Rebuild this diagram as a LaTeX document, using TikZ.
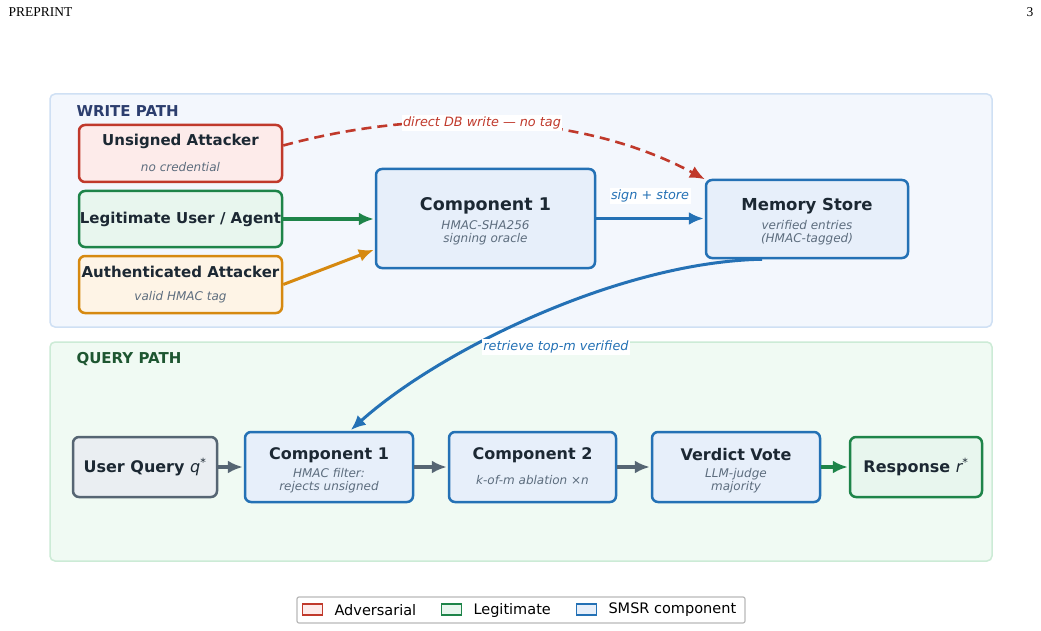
\documentclass[tikz,border=0pt]{standalone}
\usepackage{fontspec}
\setmainfont{DejaVu Sans}
\newfontfamily\headerfont{Liberation Serif}
\usetikzlibrary{arrows.meta,positioning}
\definecolor{inkdark}{HTML}{1C2833}
\definecolor{inksub}{HTML}{5D6D7E}
\definecolor{advred}{HTML}{C0392B}
\definecolor{advfill}{HTML}{FDEBEA}
\definecolor{legitgreen}{HTML}{1E8449}
\definecolor{legitfill}{HTML}{E8F6EE}
\definecolor{authorange}{HTML}{D68910}
\definecolor{authfill}{HTML}{FEF4E6}
\definecolor{smsrblue}{HTML}{2471B5}
\definecolor{smsrfill}{HTML}{E7EFFA}
\definecolor{querygray}{HTML}{566573}
\definecolor{queryfill}{HTML}{EAEEF2}
\definecolor{writepanel}{HTML}{F3F7FD}
\definecolor{writeedge}{HTML}{CFE0F4}
\definecolor{querypanel}{HTML}{F0FAF3}
\definecolor{queryedge}{HTML}{CCEBD6}
\definecolor{writetitle}{HTML}{2C3E6E}
\definecolor{querytitle}{HTML}{1E5631}
\begin{document}
\begin{tikzpicture}[x=1pt, y=-1pt,
    box/.style={draw, rounded corners=6pt, line width=2.5pt, inner sep=0pt},
    ttl/.style={text=inkdark, font=\fontsize{15}{18}\selectfont\bfseries},
    subtxt/.style={text=inksub, align=center, font=\fontsize{12}{13}\selectfont\itshape},
    flow/.style={line width=3pt, -{Latex[length=15pt,width=13pt]}, shorten >=1pt},
    tag/.style={fill=white, inner sep=1.5pt, font=\fontsize{12.8}{14}\selectfont\itshape}]
        % Page and running header
        \useasboundingbox[fill=white] (0,0) rectangle (1041,631);
        \node[anchor=west, font=\headerfont\fontsize{13.5}{15}\selectfont] (hdrleft) at (5,12) {PREPRINT};
        \node[anchor=east, font=\headerfont\fontsize{13.5}{15}\selectfont] (hdrright) at (1037,12) {3};

        % Write path panel
        \draw[fill=writepanel, draw=writeedge, line width=1.5pt, rounded corners=5pt] (50,94) rectangle (992,327);
        \node[anchor=west, text=writetitle, font=\fontsize{15}{18}\selectfont\bfseries] (wtitle) at (73,111) {WRITE PATH};

        % Query path panel
        \draw[fill=querypanel, draw=queryedge, line width=1.5pt, rounded corners=5pt] (50,342) rectangle (992,561);
        \node[anchor=west, text=querytitle, font=\fontsize{15}{18}\selectfont\bfseries] (qtitle) at (73,359) {QUERY PATH};

        % Writers
        \node[box, draw=advred, fill=advfill, minimum width=203pt, minimum height=57pt] (unsigned) at (180.5,153.5) {};
        \node[ttl] (unsignedt) at (180.5,141) {Unsigned Attacker};
        \node[subtxt] (unsigneds) at (180.5,167) {no credential};
        \node[box, ttl, draw=legitgreen, fill=legitfill, minimum width=203pt, minimum height=56pt] (legit) at (180.5,219) {Legitimate User / Agent};
        \node[box, draw=authorange, fill=authfill, minimum width=203pt, minimum height=57pt] (auth) at (180.5,284.5) {};
        \node[ttl] (autht) at (180.5,272) {Authenticated Attacker};
        \node[subtxt] (auths) at (180.5,297) {valid HMAC tag};

        % Signing oracle and store
        \node[box, draw=smsrblue, fill=smsrfill, minimum width=219pt, minimum height=99pt] (wcomp) at (485.5,218.5) {};
        \node[ttl, font=\fontsize{17.5}{20}\selectfont\bfseries] (wcompt) at (485.5,206) {Component 1};
        \node[subtxt] (wcomps) at (485.5,232.5) {HMAC-SHA256\\signing oracle};
        \node[box, draw=smsrblue, fill=smsrfill, minimum width=202pt, minimum height=78pt] (memory) at (807,219) {};
        \node[ttl, font=\fontsize{16.5}{19}\selectfont\bfseries] (memoryt) at (807,206) {Memory Store};
        \node[subtxt] (memorys) at (807,232.5) {verified entries\\(HMAC-tagged)};

        % Query chain
        \node[box, ttl, font=\fontsize{16}{19}\selectfont\bfseries, draw=querygray, fill=queryfill, minimum width=144pt, minimum height=60pt] (uquery) at (145,467) {User Query {\mdseries\itshape q}\textsuperscript{\mdseries *}};
        \node[box, draw=smsrblue, fill=smsrfill, minimum width=168pt, minimum height=70pt] (qcomp1) at (329,467) {};
        \node[ttl, font=\fontsize{16}{19}\selectfont\bfseries] (qcomp1t) at (329,455) {Component 1};
        \node[subtxt] (qcomp1s) at (329,480.5) {HMAC filter:\\rejects unsigned};
        \node[box, draw=smsrblue, fill=smsrfill, minimum width=167pt, minimum height=70pt] (qcomp2) at (532.5,467) {};
        \node[ttl, font=\fontsize{16}{19}\selectfont\bfseries] (qcomp2t) at (532.5,455) {Component 2};
        \node[subtxt] (qcomp2s) at (532.5,480) {k-of-m ablation ×n};
        \node[box, draw=smsrblue, fill=smsrfill, minimum width=168pt, minimum height=70pt] (verdict) at (736,467) {};
        \node[ttl, font=\fontsize{16}{19}\selectfont\bfseries] (verdictt) at (736,455) {Verdict Vote};
        \node[subtxt] (verdicts) at (736,480.5) {LLM-judge\\majority};
        \node[box, ttl, font=\fontsize{16}{19}\selectfont\bfseries, draw=legitgreen, fill=legitfill, minimum width=132pt, minimum height=60pt] (response) at (916,467) {Response {\mdseries\itshape r}\textsuperscript{\mdseries *}};

        % Write path arrows
        \draw[flow, color=legitgreen] (legit.east) -- (legit.east -| wcomp.west);
        \draw[flow, color=authorange] (auth.east) -- ([yshift=-31pt]wcomp.west);
        \draw[flow, color=smsrblue] (wcomp.east) -- (wcomp.east -| memory.west);
        \node[tag, text=smsrblue] (signstore) at (650,196) {sign + store};
        \draw[flow, color=advred, line width=2.6pt, dash pattern=on 10pt off 6pt] ([yshift=8pt]unsigned.east) .. controls (420,108) and (580,112) .. ([xshift=1pt,yshift=-1pt]memory.north west);
        \node[tag, text=advred] (dbwrite) at (482,123) {direct DB write — no tag};

        % Retrieval into query path
        \draw[flow, color=smsrblue] ([xshift=-45pt]memory.south) .. controls (620,262) and (440,350) .. ([xshift=21pt]qcomp1.north);
        \node[tag, text=smsrblue] (retrieve) at (556,347) {retrieve top-m verified};

        % Query path arrows
        \draw[flow, line width=3.3pt, color=querygray] (uquery) -- (qcomp1);
        \draw[flow, line width=3.3pt, color=querygray] (qcomp1) -- (qcomp2);
        \draw[flow, line width=3.3pt, color=querygray] (qcomp2) -- (verdict);
        \draw[flow, line width=3.3pt, color=legitgreen] (verdict) -- (response);

        % Legend
        \node[draw=gray!55, fill=white, line width=1.2pt, rounded corners=2pt, minimum width=448pt, minimum height=26pt] (legend) at (521,610) {};
        \node[draw=advred, fill=advfill, line width=1.6pt, minimum width=20pt, minimum height=11pt, inner sep=0pt] (keyadv) at (312.5,609.5) {};
        \node[anchor=west, font=\fontsize{14.5}{17}\selectfont] (keyadvt) at (331,610) {Adversarial};
        \node[draw=legitgreen, fill=legitfill, line width=1.6pt, minimum width=20pt, minimum height=11pt, inner sep=0pt] (keylegit) at (451.5,609.5) {};
        \node[anchor=west, font=\fontsize{14.5}{17}\selectfont] (keylegitt) at (470,610) {Legitimate};
        \node[draw=smsrblue, fill=smsrfill, line width=1.6pt, minimum width=20pt, minimum height=11pt, inner sep=0pt] (keysmsr) at (586.5,609.5) {};
        \node[anchor=west, font=\fontsize{14.5}{17}\selectfont] (keysmsrt) at (605,610) {SMSR component};
\end{tikzpicture}
\end{document}
